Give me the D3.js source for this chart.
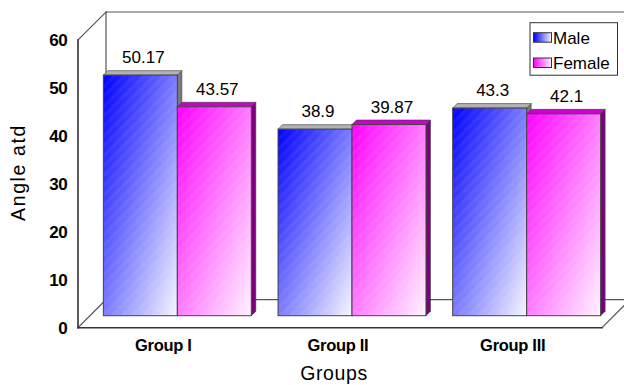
<!DOCTYPE html>
<html>
<head>
<meta charset="utf-8">
<script src="https://cdn.jsdelivr.net/npm/d3@7"></script>
<style>
  html, body { margin: 0; padding: 0; background: #fff; }
  svg { display: block; font-family: Arial, "Liberation Sans", sans-serif; }
</style>
</head>
<body>
<svg id="chart" width="624" height="385"></svg>
<script>
// Angle atd by group and sex
const groups = ["Group I", "Group II", "Group III"];
const series = ["Male", "Female"];
const maleValues = [50.17, 38.9, 43.3];
const femaleValues = [43.57, 39.87, 42.1];
const yTicks = [0, 10, 20, 30, 40, 50, 60];

const svg = d3.select("#chart");

// front plane of the 3D box, and depth offsets
const plotLeft = 78, plotRight = 602, plotTop = 40, plotBottom = 327.7;
const wallDepth = 28;      // offset of the back wall (right, up)
const barShift = 12;       // bars sit this far into the box
const barDepth = 4.5;      // thickness of each bar

const y = d3.scaleLinear().domain([0, 60]).range([plotBottom, plotTop]);
const x0 = d3.scaleBand().domain(groups).range([plotLeft, plotRight]);
const clusterWidth = x0.bandwidth() * 0.847;
const x1 = d3.scaleBand().domain(series).range([0, clusterWidth]);

const styles = {
  Male:   { from: "#0000ff", to: "#f6f6ff", topFace: "#b2b2b2", side: "#7a7a7a" },
  Female: { from: "#ff00ff", to: "#fff4ff", topFace: "#cc00cc", side: "#7d007d" }
};

const defs = svg.append("defs");
series.forEach(s => {
  const g = defs.append("linearGradient").attr("id", "grad-" + s)
    .attr("x1", 0).attr("y1", 0).attr("x2", 1).attr("y2", 1);
  g.append("stop").attr("offset", "0%").attr("stop-color", styles[s].from);
  g.append("stop").attr("offset", "100%").attr("stop-color", styles[s].to);
  const lg = defs.append("linearGradient").attr("id", "leg-" + s)
    .attr("x1", 0).attr("y1", 0).attr("x2", 1).attr("y2", 0);
  lg.append("stop").attr("offset", "0%").attr("stop-color", styles[s].from);
  lg.append("stop").attr("offset", "100%").attr("stop-color", styles[s].to);
});
// faint diagonal sheen stripes on the bar faces
const pat = defs.append("pattern").attr("id", "stripes")
  .attr("patternUnits", "userSpaceOnUse").attr("width", 7).attr("height", 7)
  .attr("patternTransform", "rotate(45)");
pat.append("rect").attr("width", 3).attr("height", 7).attr("fill", "#fff").attr("opacity", 0.05);

// box walls
const walls = svg.append("g").attr("fill", "none").attr("stroke-linecap", "square");
const bx = plotLeft + wallDepth, by = plotTop - wallDepth, bb = plotBottom - wallDepth;
const backLines = [
  [[bx, by], [plotRight + wallDepth, by]],
  [[bx, by], [bx, bb]],
  [[bx, bb], [plotRight + wallDepth, bb]],
  [[plotLeft, plotTop], [bx, by]],
  [[plotLeft, plotBottom], [bx, bb]],
  [[plotRight, plotBottom], [plotRight + wallDepth, bb]]
];
walls.selectAll("line.back").data(backLines).join("line")
  .attr("x1", d => d[0][0]).attr("y1", d => d[0][1])
  .attr("x2", d => d[1][0]).attr("y2", d => d[1][1])
  .attr("stroke", "#555").attr("stroke-width", 1.2);
const frontLines = [
  [[plotLeft, plotTop], [plotLeft, plotBottom]],
  [[plotLeft, plotBottom], [plotRight, plotBottom]]
];
walls.selectAll("line.front").data(frontLines).join("line")
  .attr("x1", d => d[0][0]).attr("y1", d => d[0][1])
  .attr("x2", d => d[1][0]).attr("y2", d => d[1][1])
  .attr("stroke", "#333").attr("stroke-width", 1.6);

// y axis tick labels
const yAxis = d3.axisLeft(y).tickValues(yTicks).tickSize(0).tickPadding(11);
const ya = svg.append("g").attr("transform", `translate(${plotLeft},0)`).call(yAxis);
ya.select(".domain").remove();
ya.selectAll("text")
  .attr("font-family", "Arial, 'Liberation Sans', sans-serif")
  .attr("font-size", 17).attr("font-weight", "bold").attr("fill", "#000")
  .attr("letter-spacing", -0.6);

// bars
const data = groups.map((g, i) => ({ group: g, values: [
  { series: "Male", value: maleValues[i] },
  { series: "Female", value: femaleValues[i] }
]}));

const barsLayer = svg.append("g");
data.forEach(d => {
  const gx = x0(d.group) + (x0.bandwidth() - clusterWidth) / 2 + barShift;
  d.values.forEach(v => {
    const st = styles[v.series];
    const xl = gx + x1(v.series), xr = xl + x1.bandwidth();
    const yt = y(v.value) - barShift, yb = y(0) - barShift;
    const g = barsLayer.append("g");
    // right side face
    g.append("path")
      .attr("d", `M${xr},${yt} L${xr + barDepth},${yt - barDepth} L${xr + barDepth},${yb - barDepth} L${xr},${yb} Z`)
      .attr("fill", st.side).attr("stroke", "#3a3a3a").attr("stroke-width", 0.6);
    // top face
    g.append("path")
      .attr("d", `M${xl},${yt} L${xl + barDepth},${yt - barDepth} L${xr + barDepth},${yt - barDepth} L${xr},${yt} Z`)
      .attr("fill", st.topFace).attr("stroke", "#3a3a3a").attr("stroke-width", 0.6);
    // front face
    g.append("rect")
      .attr("x", xl).attr("y", yt).attr("width", xr - xl).attr("height", yb - yt)
      .attr("fill", `url(#grad-${v.series})`);
    g.append("rect")
      .attr("x", xl).attr("y", yt).attr("width", xr - xl).attr("height", yb - yt)
      .attr("fill", "url(#stripes)").attr("stroke", "#444").attr("stroke-width", 1);
    // value label
    svg.append("text")
      .attr("x", (xl + xr) / 2 + 3)
      .attr("y", yt - barDepth - 7.5)
      .attr("text-anchor", "middle")
      .attr("font-size", 17).attr("fill", "#000")
      .text(v.value);
  });
});

// group labels
svg.append("g").selectAll("text").data(groups).join("text")
  .attr("x", g => x0(g) + x0.bandwidth() / 2 - 2)
  .attr("y", 351)
  .attr("text-anchor", "middle")
  .attr("font-size", 16.5).attr("font-weight", "bold").attr("letter-spacing", -0.3)
  .text(g => g);

// axis titles
svg.append("text")
  .attr("x", 334).attr("y", 380)
  .attr("text-anchor", "middle")
  .attr("font-size", 19.5).attr("letter-spacing", 0.6)
  .text("Groups");
svg.append("text")
  .attr("transform", "translate(25,172.5) rotate(-90)")
  .attr("text-anchor", "middle")
  .attr("font-size", 19.5).attr("letter-spacing", 1.6)
  .text("Angle atd");

// legend
const legend = svg.append("g");
legend.append("rect")
  .attr("x", 530).attr("y", 22.7).attr("width", 87.5).attr("height", 52.5)
  .attr("fill", "#fff").attr("stroke", "#333").attr("stroke-width", 1);
const legY = [32.7, 58];
series.forEach((s, i) => {
  legend.append("rect")
    .attr("x", 533.5).attr("y", legY[i]).attr("width", 18).attr("height", 9.5)
    .attr("fill", `url(#leg-${s})`).attr("stroke", "#333").attr("stroke-width", 1);
  legend.append("text")
    .attr("x", 553).attr("y", legY[i] + 11)
    .attr("font-size", 17).text(s);
});
</script>
</body>
</html>
